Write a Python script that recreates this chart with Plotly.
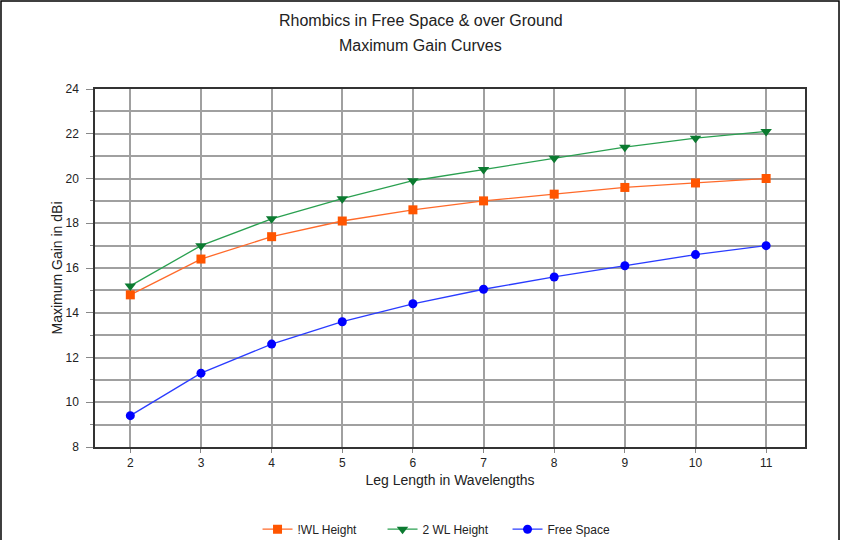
import plotly.graph_objects as go

# --- Data ---
leg_length = [2, 3, 4, 5, 6, 7, 8, 9, 10, 11]
gain_1wl = [14.8, 16.4, 17.4, 18.1, 18.6, 19.0, 19.3, 19.6, 19.8, 20.0]
gain_2wl = [15.2, 17.0, 18.2, 19.1, 19.9, 20.4, 20.9, 21.4, 21.8, 22.1]
gain_free = [9.4, 11.3, 12.6, 13.6, 14.4, 15.05, 15.6, 16.1, 16.6, 17.0]

FONT = "Liberation Sans, Arial, sans-serif"
GRID = "#a0a0a0"

fig = go.Figure()

fig.add_trace(go.Scatter(
    x=leg_length, y=gain_1wl, name="!WL Height", mode="lines+markers",
    line=dict(color="#ff6a2a", width=1.3),
    marker=dict(symbol="square", size=9, color="#ff5500"),
))
fig.add_trace(go.Scatter(
    x=leg_length, y=gain_2wl, name="2 WL Height", mode="lines+markers",
    line=dict(color="#2aa050", width=1.3),
    marker=dict(symbol="triangle-down", size=10, color="#0b7a30"),
))
fig.add_trace(go.Scatter(
    x=leg_length, y=gain_free, name="Free Space", mode="lines+markers",
    line=dict(color="#2a3cff", width=1.3),
    marker=dict(symbol="circle", size=9, color="#0000ff"),
))

# outer frame around the whole picture (paper coords relative to plot area)
fig.add_shape(type="rect", xref="paper", yref="paper",
              x0=-0.1324, x1=1.0479, y0=-0.4, y1=1.2458,
              line=dict(color="black", width=1.5), fillcolor="rgba(0,0,0,0)")

# two-line title placed as annotations for exact spacing
fig.add_annotation(text="Rhombics in Free Space & over Ground", xref="paper", yref="paper",
                   x=0.459, y=1.1927, showarrow=False, yanchor="middle",
                   font=dict(family=FONT, size=16, color="#222"))
fig.add_annotation(text="Maximum Gain Curves", xref="paper", yref="paper",
                   x=0.459, y=1.1229, showarrow=False, yanchor="middle",
                   font=dict(family=FONT, size=16, color="#222"))

fig.update_layout(
    width=843, height=540,
    margin=dict(l=95, r=38, t=89, b=93),
    paper_bgcolor="white", plot_bgcolor="white",
    font=dict(family=FONT, size=12, color="#222"),
    xaxis=dict(
        range=[1.5, 11.55], tickmode="array", tickvals=leg_length,
        ticks="outside", ticklen=4, tickcolor="#888",
        showgrid=True, gridcolor=GRID, gridwidth=1.6,
        showline=True, linecolor="#333", linewidth=1.5, mirror=True,
        zeroline=False, automargin=False,
        title=dict(text="Leg Length in Wavelengths", font=dict(size=14), standoff=6),
        tickfont=dict(size=12),
    ),
    yaxis=dict(
        range=[8, 24], dtick=2, tick0=8,
        ticks="outside", ticklen=7, tickcolor="#888",
        ticklabelstandoff=5,
        minor=dict(dtick=1, ticks="outside", ticklen=3, tickcolor="#888",
                   showgrid=True, gridcolor=GRID, gridwidth=1.6),
        showgrid=True, gridcolor=GRID, gridwidth=1.6,
        showline=True, linecolor="#333", linewidth=1.5, mirror=True,
        zeroline=False, automargin=False,
        title=dict(text="Maximum Gain in dBi", font=dict(size=14), standoff=0),
        tickfont=dict(size=12),
    ),
    legend=dict(
        orientation="h", x=0.493, xanchor="center",
        yref="container", y=0.02, yanchor="middle",
        font=dict(size=12), bgcolor="rgba(0,0,0,0)",
        entrywidth=80, entrywidthmode="pixels",
    ),
    showlegend=True,
)

# remove the default page margin so the figure sits at the window's corner
fig.write_html("out.html", config={"displayModeBar": False},
               post_script="document.body.style.margin='0';")
